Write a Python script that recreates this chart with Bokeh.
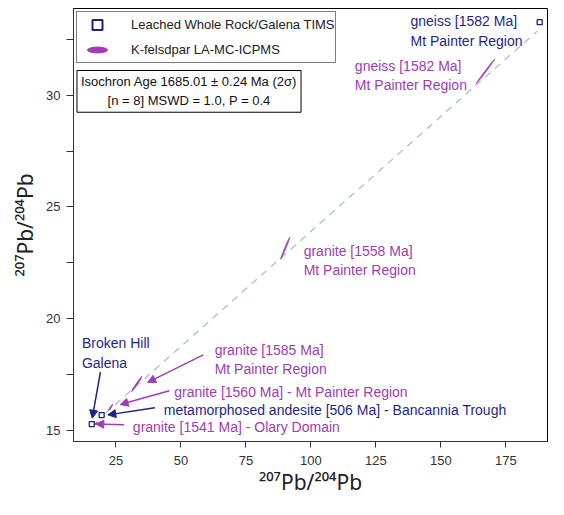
import numpy as np
from bokeh.plotting import figure
from bokeh.models import (Range1d, FixedTicker, Label, Arrow, NormalHead, Legend, LegendItem)
from bokeh.embed import file_html
from bokeh.resources import INLINE

# ---------------- data ----------------
# Leached whole rock / galena TIMS analyses
tims_x = [188.0, 15.7, 19.5]
tims_y = [33.26, 15.30, 15.70]

# K-feldspar LA-MC-ICPMS error ellipses (centre, 2-sigma half widths, correlation)
kf_x = [167.2, 90.1, 33.0, 23.0, 17.3]
kf_y = [31.07, 23.15, 17.09, 16.05, 15.33]
kf_sx = [3.6, 1.75, 2.0, 0.75, 0.45]
kf_sy = [0.55, 0.49, 0.34, 0.13, 0.07]
kf_rho = [0.997, 0.99, 0.985, 0.93, 0.9]

# isochron (1685 Ma)
iso_slope = 0.1028
iso_intercept = 13.63
iso_xmin, iso_xmax = 21.0, 187.0

x_ticks = [25, 50, 75, 100, 125, 150, 175]
y_ticks = [15, 20, 25, 30]
y_minor = [17.5, 22.5, 27.5, 32.5]

NAVY = "#1f1f8c"
MAG = "#a03cb4"
FONT = "Liberation Sans"
AXFONT = "Noto Sans"

p = figure(width=548, height=499, output_backend="svg", toolbar_location=None,
           x_range=Range1d(8.67, 191.0), y_range=Range1d(14.52, 33.87),
           min_border_left=73, min_border_right=1, min_border_top=8, min_border_bottom=58)
p.grid.visible = False
p.outline_line_color = "black"
p.outline_line_width = 1
p.background_fill_color = "white"

# axes
p.xaxis.ticker = FixedTicker(ticks=x_ticks)
p.yaxis.ticker = FixedTicker(ticks=y_ticks, minor_ticks=y_minor)
for ax in (p.xaxis[0], p.yaxis[0]):
    ax.axis_line_color = "#333333"
    ax.major_tick_line_color = "#333333"
    ax.minor_tick_line_color = "#333333"
    ax.major_tick_in = 0
    ax.minor_tick_in = 0
    ax.major_label_text_font = FONT
    ax.major_label_text_font_size = "13px"
    ax.major_label_text_color = "#333333"
    ax.axis_label_text_font = AXFONT
    ax.axis_label_text_font_size = "21px"
    ax.axis_label_text_font_style = "normal"
    ax.axis_label_text_color = "#222222"
p.xaxis.major_tick_out = 6
p.xaxis.minor_tick_out = 0
p.xaxis.major_label_standoff = 8
p.xaxis.axis_label_standoff = 0
p.yaxis.major_tick_out = 7
p.yaxis.minor_tick_out = 7
p.yaxis.major_label_standoff = 6
p.yaxis.axis_label_standoff = 4
p.xaxis.axis_label = "²⁰⁷Pb/²⁰⁴Pb"
p.yaxis.axis_label = "²⁰⁷Pb/²⁰⁴Pb"

# isochron line
xs = np.array([iso_xmin, iso_xmax])
p.line(xs, iso_intercept + iso_slope * xs, line_color="#aabdd6", line_width=1.3, line_dash="7 6")

# K-feldspar ellipses
t = np.linspace(0, 2 * np.pi, 80)
ex, ey = [], []
for cx, cy, sx, sy, r in zip(kf_x, kf_y, kf_sx, kf_sy, kf_rho):
    ex.append(cx + sx * np.cos(t))
    ey.append(cy + sy * (r * np.cos(t) + np.sqrt(1 - r * r) * np.sin(t)))
p.patches(ex, ey, fill_color=MAG, line_color=MAG, line_width=0.8)

# TIMS squares
p.scatter(tims_x, tims_y, marker="square", size=5, fill_color="white",
          line_color=NAVY, line_width=1.3)

# legend key glyphs (kept outside the visible range)
leg_ell = p.ellipse(x=[-100], y=[-100], width=[3.4], height=[1], angle=[0.7],
                    width_units="screen", height_units="screen",
                    fill_color=MAG, line_color=MAG)
leg_sq = p.scatter(x=[-100], y=[-100], marker="square", size=12, fill_color="white",
                   line_color=NAVY, line_width=2)

legend = Legend(items=[LegendItem(label="Leached Whole Rock/Galena TIMS", renderers=[leg_sq]),
                       LegendItem(label="K-felsdpar LA-MC-ICPMS", renderers=[leg_ell])],
                location="top_left", margin=3, padding=0, spacing=0,
                glyph_width=40, glyph_height=25, label_height=25, label_standoff=14,
                label_text_font=FONT, label_text_font_size="13px", label_text_color="#222222",
                border_line_color="black", border_line_width=1, background_fill_alpha=1)
p.add_layout(legend)

# isochron result box
p.add_layout(Label(x=53.1, y=31.1, text="Isochron Age 1685.01 ± 0.24 Ma (2σ)\n[n = 8] MSWD = 1.0, P = 0.4",
                   text_align="center", text_baseline="top", text_font=FONT, text_font_size="13px",
                   text_color="#111111", border_line_color="black", border_line_width=1,
                   background_fill_color="white", padding=4, text_line_height=1.25))

# text labels
labels = [
    (138.3, 33.65, "gneiss [1582 Ma]\nMt Painter Region", NAVY),
    (116.9, 31.65, "gneiss [1582 Ma]\nMt Painter Region", MAG),
    (97.2, 23.39, "granite [1558 Ma]\nMt Painter Region", MAG),
    (62.97, 18.97, "granite [1585 Ma]\nMt Painter Region", MAG),
    (47.4, 17.09, "granite [1560 Ma] - Mt Painter Region", MAG),
    (43.4, 16.29, "metamorphosed andesite [506 Ma] - Bancannia Trough", NAVY),
    (31.5, 15.53, "granite [1541 Ma] - Olary Domain", MAG),
    (11.92, 19.26, "Broken Hill\nGalena", NAVY),
]
for x, y, s, c in labels:
    p.add_layout(Label(x=x, y=y, text=s, text_color=c, text_font=FONT, text_font_size="14px",
                       text_baseline="top", text_align="left", text_line_height=1.2))

# arrows
arrows = [
    (19.02, 17.62, 15.88, 15.56, NAVY),
    (58.6, 18.39, 37.2, 17.16, MAG),
    (45.55, 16.79, 26.6, 16.17, MAG),
    (39.95, 16.03, 21.86, 15.71, NAVY),
    (28.1, 15.27, 17.26, 15.30, MAG),
]
for x0, y0, x1, y1, c in arrows:
    p.add_layout(Arrow(x_start=x0, y_start=y0, x_end=x1, y_end=y1, line_color=c, line_width=1.5,
                       end=NormalHead(size=8, fill_color=c, line_color=c)))

open("out.html", "w").write(file_html(p, INLINE))
